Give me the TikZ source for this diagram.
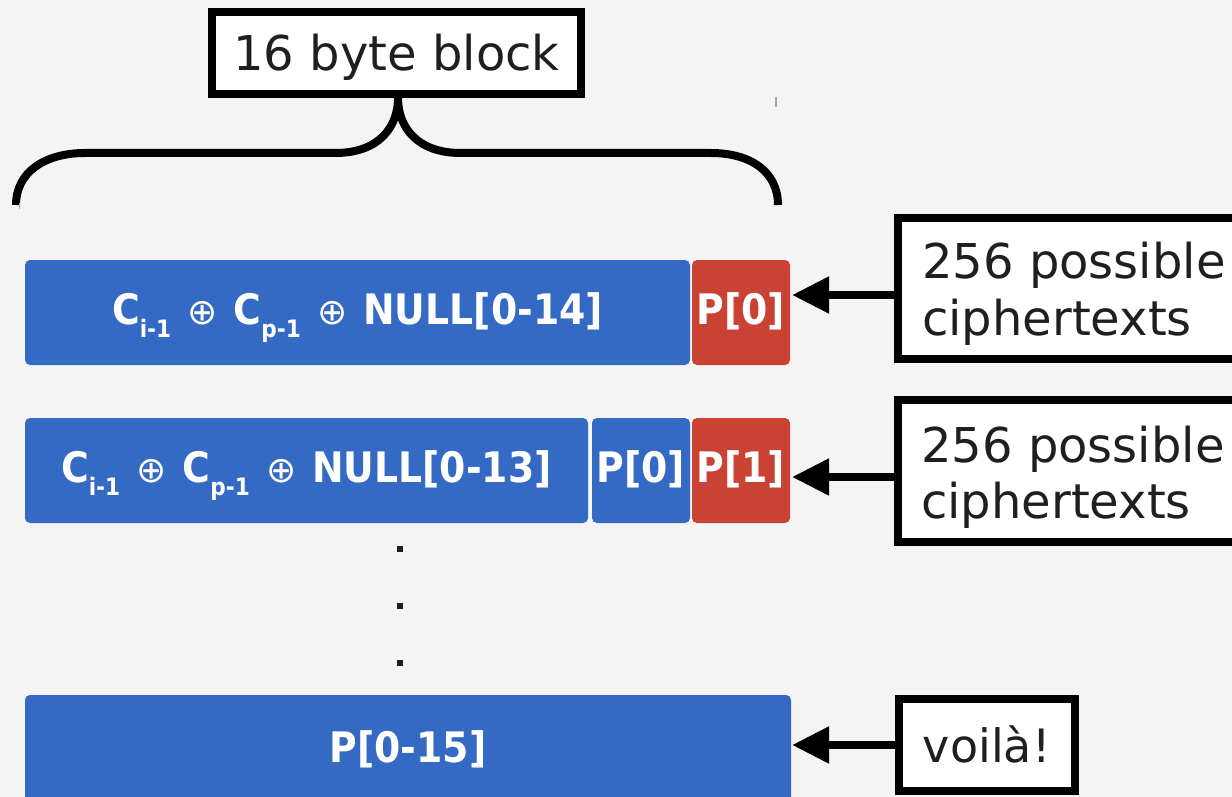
\documentclass[tikz,border=0pt]{standalone}
\usepackage{fontspec}
\setmainfont{DejaVu Sans}
\newfontfamily\cbf{DejaVu Sans Condensed}
\newfontfamily\dvreg{DejaVu Sans}
\usetikzlibrary{arrows.meta}
\definecolor{bg}{HTML}{F4F4F4}
\definecolor{cellblue}{HTML}{3469C4}
\definecolor{cellred}{HTML}{C94233}
\definecolor{ink}{HTML}{1F1F1F}
% lowered index and the xor sign used in the block labels
\newcommand\idx[1]{\raisebox{-13pt}{\fontsize{24}{24}\selectfont #1}}
\newcommand\xo{\hspace{3pt}{\dvreg\mdseries\fontsize{36}{36}\selectfont ⊕}\hspace{3pt}}
\tikzset{
  cell/.style={anchor=north west, rounded corners=5pt, minimum height=105pt,
    inner sep=0pt, outer sep=0pt, text=white,
    font=\cbf\bfseries\fontsize{42}{42}\selectfont,
    text height=23pt, text depth=0pt},
  callout/.style={draw=black, line width=8pt, fill=white, inner sep=0pt,
    outer sep=0pt, text=ink, font=\fontsize{48}{48}\selectfont},
  caption/.style={anchor=base west, inner sep=0pt, text=ink,
    font=\fontsize{48}{48}\selectfont},
  arr/.style={line width=8pt, -{Triangle[length=37pt,width=35pt]}},
}
\begin{document}
\begin{tikzpicture}[x=1pt,y=-1pt]
\useasboundingbox (0,0) rectangle (1232,797);
\fill[bg] (0,0) rectangle (1232,797);

% header and brace spanning the block
\node[callout, minimum width=369pt, minimum height=82pt,
      text height=36pt, text depth=0pt] (hdr) at (396.5,53) {16 byte block};
\coordinate (tip) at (398,98);
\draw[line width=8pt, line join=round]
  (16,205) .. controls (16,172) and (45,153) .. (85,153) -- (335,153)
  .. controls (380,153) and (398,126) .. (tip)
  .. controls (398,126) and (416,153) .. (461,153) -- (711,153)
  .. controls (751,153) and (778,172) .. (778,205);
\draw[gray!70, line width=1.2pt] (776,97) -- (776,107);
\draw[gray!70, line width=1pt] (19,203) -- (19,209);

% first guess: last byte
\node[cell, fill=cellblue, minimum width=665pt] (r1a) at (25,260)
  {C\idx{i-1} \xo{} C\idx{p-1} \xo{} NULL[0-14]};
\node[cell, fill=cellred, minimum width=98pt] (r1b) at (692,260) {P[0]};

% second guess: next byte
\node[cell, fill=cellblue, minimum width=563pt] (r2a) at (25,418)
  {C\idx{i-1} \xo{} C\idx{p-1} \xo{} NULL[0-13]};
\node[cell, fill=cellblue, minimum width=98pt] (r2b) at (592,418) {P[0]};
\node[cell, fill=cellred, minimum width=98pt] (r2c) at (692,418) {P[1]};

% ellipsis
\foreach \yy in {549,606,663}
  \fill[ink] (397,\yy-3) rectangle (403,\yy+3);

% recovered block
\node[cell, fill=cellblue, minimum width=766pt, minimum height=111pt] (r3) at (25,695) {P[0-15]};

% callouts
\node[callout, anchor=north west, minimum width=360pt, minimum height=141.5pt] (c1) at (898,217.5) {};
\node[caption] (c1t) at (922,278)
  {\vtop{\baselineskip=57pt\hbox{256 possible}\hbox{ciphertexts}}};
\node[callout, anchor=north west, minimum width=360pt, minimum height=142pt] (c2) at (898,399.5) {};
\node[caption] (c2t) at (921,462)
  {\vtop{\baselineskip=56pt\hbox{256 possible}\hbox{ciphertexts}}};
\node[callout, anchor=north west, minimum width=176.5pt, minimum height=92pt,
      text height=35pt, text depth=0pt, font=\fontsize{46}{46}\selectfont] (v) at (898.5,698.5) {voilà!};

% arrows into the guessed bytes
\coordinate (a1) at (792,295);
\coordinate (a2) at (792,477);
\coordinate (a3) at (792,745);
\draw[arr] (c1.west |- a1) -- (a1);
\draw[arr] (c2.west |- a2) -- (a2);
\draw[arr] (v.west |- a3) -- (a3);
\end{tikzpicture}
\end{document}
